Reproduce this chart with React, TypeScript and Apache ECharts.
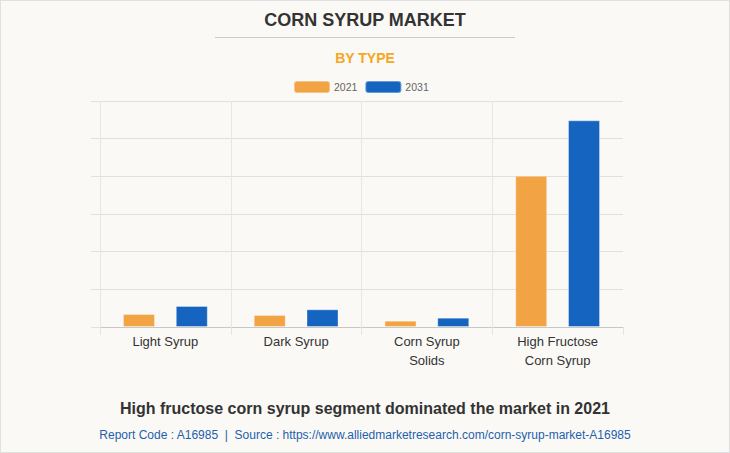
import React, { useEffect, useRef } from "react";
import * as echarts from "echarts";

const categories = ["Light Syrup", "Dark Syrup", "Corn Syrup\nSolids", "High Fructose\nCorn Syrup"];
const values2021 = [345, 319, 167, 4017];
const values2031 = [558, 470, 247, 5488];
const seriesNames = ["2021", "2031"];

export default function App() {
  const ref = useRef<HTMLDivElement>(null);
  useEffect(() => {
    if (!ref.current) return;
    const chart = echarts.init(ref.current, undefined, { renderer: "svg" });
    const font = "'Liberation Sans', Arial, sans-serif";
    chart.setOption({
      animation: false,
      backgroundColor: "#faf9f5",
      textStyle: { fontFamily: font },
      title: [
        {
          text: "CORN SYRUP MARKET",
          left: "center",
          top: 6,
          textStyle: { fontSize: 18, fontWeight: "bold", color: "#333", fontFamily: font },
        },
        {
          text: "BY TYPE",
          left: "center",
          top: 46,
          textStyle: { fontSize: 14, fontWeight: "bold", color: "#f5a623", fontFamily: font },
        },
        {
          text: "High fructose corn syrup segment dominated the market in 2021",
          left: "center",
          top: 395,
          textStyle: { fontSize: 16, fontWeight: "bold", color: "#333", fontFamily: font },
        },
        {
          text: "Report Code : A16985  |  Source : https://www.alliedmarketresearch.com/corn-syrup-market-A16985",
          left: "center",
          top: 424,
          textStyle: { fontSize: 12, fontWeight: "normal", color: "#1f5fae", fontFamily: font },
        },
      ],
      graphic: [
        {
          type: "line",
          shape: { x1: 215, y1: 37.5, x2: 515, y2: 37.5 },
          style: { stroke: "#cccccc", lineWidth: 1 },
        },
      ],
      legend: {
        top: 75,
        left: 288,
        itemWidth: 36,
        itemHeight: 12,
        itemGap: 7,
        textStyle: { fontSize: 10.5, color: "#666", fontFamily: font, padding: [0, 0, 0, -1] },
        data: seriesNames,
      },
      grid: { left: 100, right: 107, top: 101, bottom: 126 },
      xAxis: {
        type: "category",
        data: categories,
        axisLine: { lineStyle: { color: "#c8c8c8" } },
        axisTick: { show: true, length: 8, lineStyle: { color: "#e4e4e4" } },
        splitLine: { show: true, showMaxLine: false, lineStyle: { color: "#e6e6e6" } },
        axisLabel: { fontSize: 13, color: "#333", lineHeight: 19, margin: 5, fontFamily: font },
      },
      yAxis: {
        type: "value",
        min: 0,
        max: 6000,
        interval: 1000,
        axisLine: { show: false },
        axisTick: { show: true, length: 9, lineStyle: { color: "#e0e0e0" } },
        axisLabel: { show: false },
        splitLine: { lineStyle: { color: "#e0e0e0" } },
      },
      series: [
        {
          name: seriesNames[0],
          type: "bar",
          data: values2021,
          barWidth: 32,
          barGap: "65%",
          itemStyle: { color: "#f2a444", borderColor: "rgba(255,255,255,0.35)", borderWidth: 1 },
        },
        {
          name: seriesNames[1],
          type: "bar",
          data: values2031,
          barWidth: 32,
          itemStyle: { color: "#1565c0", borderColor: "rgba(255,255,255,0.35)", borderWidth: 1 },
        },
      ],
    });
    return () => chart.dispose();
  }, []);
  return (
    <div style={{ position: "fixed", left: 0, top: 0, width: 730, height: 453 }}>
      <div ref={ref} style={{ width: 730, height: 453 }} />
      <div
        style={{
          position: "absolute",
          left: 0,
          top: 0,
          width: 730,
          height: 453,
          boxSizing: "border-box",
          border: "1px solid #e0e0e0",
          pointerEvents: "none",
        }}
      />
    </div>
  );
}
